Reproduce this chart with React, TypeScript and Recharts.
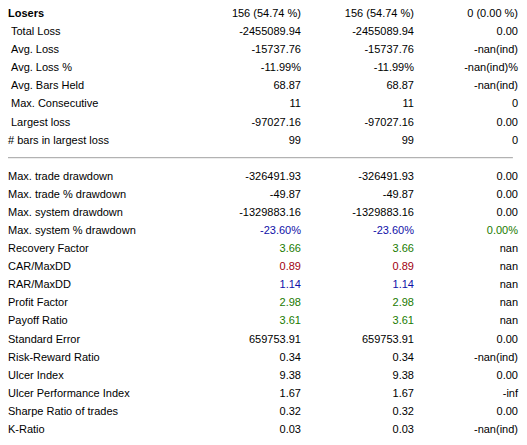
import React from 'react';
import { ScatterChart, Scatter, XAxis, YAxis, ReferenceLine } from 'recharts';

// ---------- data ----------
const topRowLabels = [
  'Losers',
  'Total Loss',
  'Avg. Loss',
  'Avg. Loss %',
  'Avg. Bars Held',
  'Max. Consecutive',
  'Largest loss',
  '# bars in largest loss',
];
const topAllTrades = ['156 (54.74 %)', '-2455089.94', '-15737.76', '-11.99%', '68.87', '11', '-97027.16', '99'];
const topLongTrades = ['156 (54.74 %)', '-2455089.94', '-15737.76', '-11.99%', '68.87', '11', '-97027.16', '99'];
const topShortTrades = ['0 (0.00 %)', '0.00', '-nan(ind)', '-nan(ind)%', '-nan(ind)', '0', '0.00', '0'];

const bottomRowLabels = [
  'Max. trade drawdown',
  'Max. trade % drawdown',
  'Max. system drawdown',
  'Max. system % drawdown',
  'Recovery Factor',
  'CAR/MaxDD',
  'RAR/MaxDD',
  'Profit Factor',
  'Payoff Ratio',
  'Standard Error',
  'Risk-Reward Ratio',
  'Ulcer Index',
  'Ulcer Performance Index',
  'Sharpe Ratio of trades',
  'K-Ratio',
];
const bottomAllTrades = ['-326491.93', '-49.87', '-1329883.16', '-23.60%', '3.66', '0.89', '1.14', '2.98', '3.61', '659753.91', '0.34', '9.38', '1.67', '0.32', '0.03'];
const bottomLongTrades = ['-326491.93', '-49.87', '-1329883.16', '-23.60%', '3.66', '0.89', '1.14', '2.98', '3.61', '659753.91', '0.34', '9.38', '1.67', '0.32', '0.03'];
const bottomShortTrades = ['0.00', '0.00', '0.00', '0.00%', 'nan', 'nan', 'nan', 'nan', 'nan', '0.00', '-nan(ind)', '0.00', '-inf', '0.00', '-nan(ind)'];

// ---------- styles / layout ----------
const W = 527;
const H = 445;
const FONT = '"Liberation Sans", Arial, sans-serif';
const BLACK = '#000000';
const BLUE = '#1010a8';
const GREEN = '#1a7a00';
const RED = '#a00010';

const VALUE_COLOR: Record<string, string> = {
  'Max. system % drawdown': BLUE,
  'Recovery Factor': GREEN,
  'CAR/MaxDD': RED,
  'RAR/MaxDD': BLUE,
  'Profit Factor': GREEN,
  'Payoff Ratio': GREEN,
};
const SHORT_COLOR: Record<string, string> = {
  'Max. system % drawdown': GREEN,
};
const BOLD_ROWS = new Set(['Losers']);
const INDENT_ROWS = new Set(['Total Loss', 'Avg. Loss', 'Avg. Loss %', 'Avg. Bars Held', 'Max. Consecutive', 'Largest loss']);

// column anchors on a 0..1 table-width axis
const COL_LABEL = 0;
const COL_ALL = 0.5745;
const COL_LONG = 0.796;
const COL_SHORT = 1;
const SEPARATOR_END = 0.99;

// ---------- build rows ----------
type Cell = { x: number; y: number; text: string; row: string; col: string };

const allLabels = [...topRowLabels, ...bottomRowLabels];
const allAll = [...topAllTrades, ...bottomAllTrades];
const allLong = [...topLongTrades, ...bottomLongTrades];
const allShort = [...topShortTrades, ...bottomShortTrades];
const SEPARATOR_ROW = topRowLabels.length;
const rowIndex = (i: number) => (i < topRowLabels.length ? i : i + 1);
const LAST_ROW = rowIndex(allLabels.length - 1);

const makeCells = (values: string[], x: number, col: string): Cell[] =>
  values.map((text, i) => ({ x, y: rowIndex(i), text, row: allLabels[i], col }));

const labelCells = makeCells(allLabels, COL_LABEL, 'label');
const allCells = makeCells(allAll, COL_ALL, 'all');
const longCells = makeCells(allLong, COL_LONG, 'long');
const shortCells = makeCells(allShort, COL_SHORT, 'short');

const cellColor = (c: Cell) => {
  if (c.col === 'label') return BLACK;
  if (c.col === 'short') return SHORT_COLOR[c.row] ?? BLACK;
  return VALUE_COLOR[c.row] ?? BLACK;
};

const TextCell = (props: any) => {
  const { cx, cy, payload } = props;
  const c = payload as Cell;
  const isLabel = c.col === 'label';
  const dx = isLabel && INDENT_ROWS.has(c.row) ? 3 : 0;
  return (
    <text
      x={cx + dx}
      y={cy}
      dy={4}
      textAnchor={isLabel ? 'start' : 'end'}
      fontFamily={FONT}
      fontSize={11}
      fontWeight={isLabel && BOLD_ROWS.has(c.row) ? 'bold' : 'normal'}
      fill={cellColor(c)}
    >
      {c.text}
    </text>
  );
};

export default function App() {
  return (
    <div style={{ position: 'absolute', left: 0, top: 0, width: W, height: H, background: '#ffffff' }}>
      <ScatterChart width={W} height={H} margin={{ top: 13, right: 9, bottom: 16, left: 8 }}>
        <XAxis type="number" dataKey="x" domain={[0, 1]} hide />
        <YAxis type="number" dataKey="y" domain={[0, LAST_ROW]} reversed hide />
        <ReferenceLine
          segment={[
            { x: COL_LABEL, y: SEPARATOR_ROW },
            { x: SEPARATOR_END, y: SEPARATOR_ROW },
          ]}
          stroke="#a0a0a0"
          strokeWidth={1}
        />
        <Scatter data={labelCells} shape={TextCell} isAnimationActive={false} />
        <Scatter data={allCells} shape={TextCell} isAnimationActive={false} />
        <Scatter data={longCells} shape={TextCell} isAnimationActive={false} />
        <Scatter data={shortCells} shape={TextCell} isAnimationActive={false} />
      </ScatterChart>
    </div>
  );
}
